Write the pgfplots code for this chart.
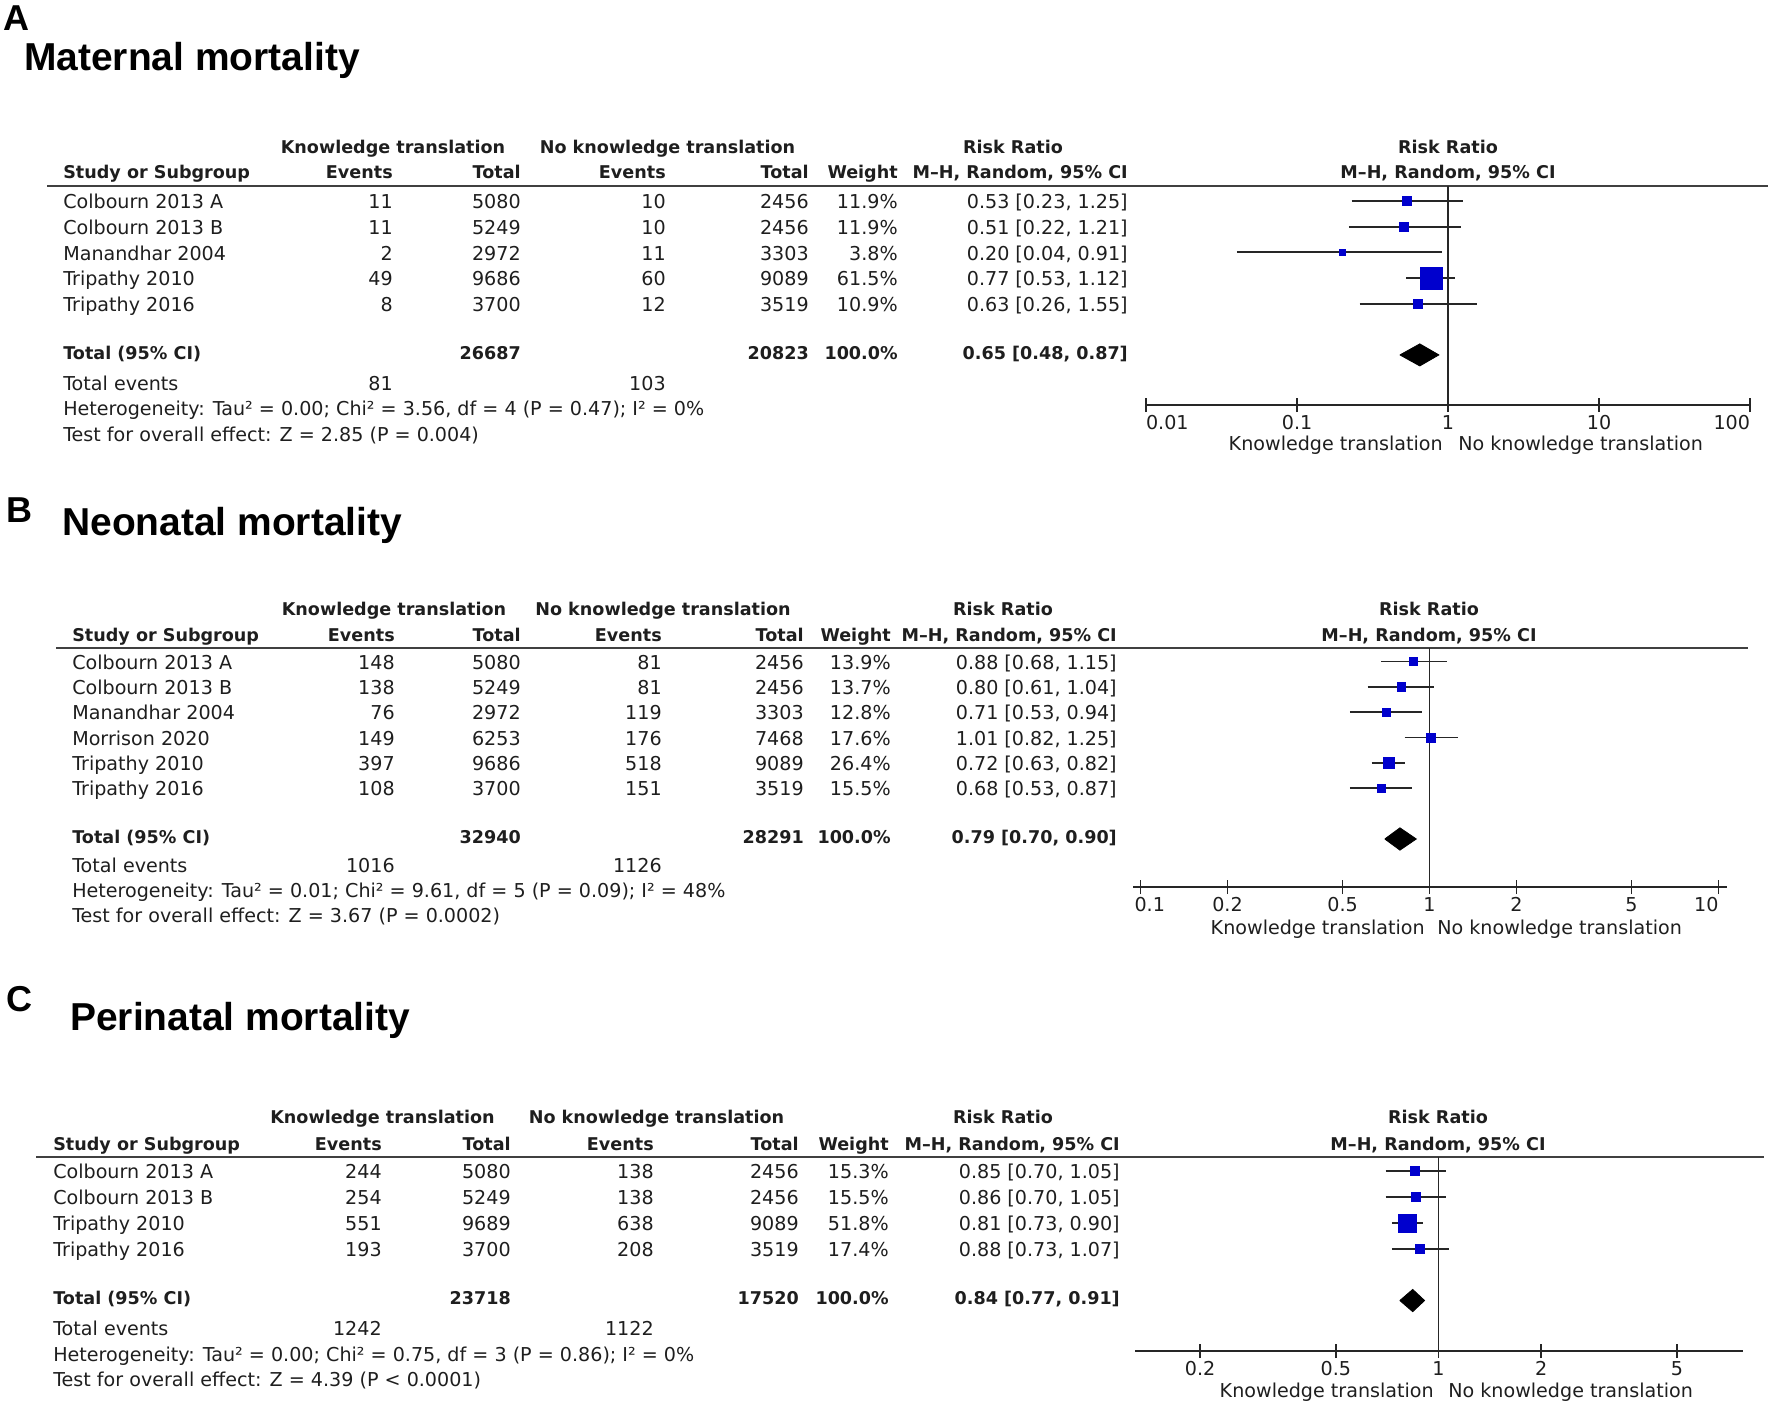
\documentclass[border=0pt]{standalone}
\usepackage{fontspec}
\usepackage{pgfplots}
\usepackage{pgfplotstable}
\pgfplotsset{compat=1.18}
\setmainfont{DejaVu Sans}
\newfontfamily\titlefont{Liberation Sans}
\newcommand\tf{\fontsize{13.6pt}{16pt}\selectfont}
\newcommand\tfb{\fontsize{12.5pt}{15pt}\selectfont\bfseries}
\newcommand\ttl{\fontsize{27.7pt}{32pt}\selectfont\titlefont\bfseries}
\newcommand\lbl{\fontsize{25.6pt}{30pt}\selectfont\titlefont\bfseries}
\definecolor{rmblue}{RGB}{0,0,205}
\definecolor{txt}{RGB}{30,30,30}

% forest data: row, ratio, lower, upper, square side (px)
\pgfplotstableread{
row rr lo hi sz
1 0.53 0.23 1.25 9
2 0.51 0.22 1.21 9
3 0.20 0.04 0.91 6
4 0.77 0.53 1.12 22
5 0.63 0.26 1.55 8.5
}\dataA
\pgfplotstableread{
row rr lo hi sz
1 0.88 0.68 1.15 8.5
2 0.80 0.61 1.04 8.3
3 0.71 0.53 0.94 8.2
4 1.01 0.82 1.25 8.6
5 0.72 0.63 0.82 11
6 0.68 0.53 0.87 8.7
}\dataB
\pgfplotstableread{
row rr lo hi sz
1 0.85 0.70 1.05 8.7
2 0.86 0.70 1.05 9
3 0.81 0.73 0.90 18
4 0.88 0.73 1.07 9.4
}\dataC

\pgfplotsset{
fstyle/.style={
  scale only axis, clip=false,
  axis y line=none, axis x line*=bottom,
  axis line style={line width=0.5mm, black!85},
  xtick align=center, major tick length=3.5mm, minor tick length=0pt,
  tick style={line width=0.4mm, black!85},
  xticklabel style={font=\tf, text=txt, inner sep=0pt, anchor=north, yshift=-0.75mm},
},
ci/.style={black!85, line width=0.45mm, forget plot},
sq/.style={only marks, mark=square*, scatter,
  scatter/use mapped color={draw=rmblue, fill=rmblue},
  visualization depends on={\thisrow{sz} \as \sz},
  scatter/@pre marker code/.append style={/tikz/mark size=\sz*0.125mm}},
dia/.style={fill=black, draw=black, line width=0.2mm, mark=none},
}

\newcommand\setcols[7]{\def\cN{#1}\def\cEa{#2}\def\cTa{#3}\def\cEb{#4}\def\cTb{#5}\def\cW{#6}\def\cCI{#7}}
\newcommand\Row[8]{%
  \node[lt] at (\cN,#1) {#2};
  \node[rt] at (\cEa,#1) {#3};
  \node[rt] at (\cTa,#1) {#4};
  \node[rt] at (\cEb,#1) {#5};
  \node[rt] at (\cTb,#1) {#6};
  \node[rt] at (\cW,#1) {#7};
  \node[rt] at (\cCI,#1) {#8};}
\newcommand\Head[3]{%
  \node[cb] at ({(\cEa+\cTa)/2-64},#1) {Knowledge translation};
  \node[cb] at ({(\cEb+\cTb)/2-70},#1) {No knowledge translation};
  \node[cb] at (#3,#1) {Risk Ratio};
  \node[lb] at (\cN,#2) {Study or Subgroup};
  \node[rb] at (\cEa,#2) {Events};
  \node[rb] at (\cTa,#2) {Total};
  \node[rb] at (\cEb,#2) {Events};
  \node[rb] at (\cTb,#2) {Total};
  \node[rb] at (\cW,#2) {Weight};
  \node[rb] at (\cCI,#2) {M–H, Random, 95\% CI};}
\newcommand\Tot[5]{%
  \node[lb] at (\cN,#1) {Total (95\% CI)};
  \node[rb] at (\cTa,#1) {#2};
  \node[rb] at (\cTb,#1) {#3};
  \node[rb] at (\cW,#1) {100.0\%};
  \node[rb] at (\cCI,#1) {#4 #5};}
\newcommand\Foot[7]{%
  \node[lt] at (\cN,#1) {Total events};
  \node[rt] at (\cEa,#1) {#2};
  \node[rt] at (\cEb,#1) {#3};
  \node[lt] at (\cN,#4) {#5};
  \node[lt] at (\cN,#6) {#7};}

\begin{document}
\begin{tikzpicture}
\begin{scope}[x=0.25mm, y=-0.25mm,
  lt/.style={anchor=mid west, inner sep=0pt, font=\tf, text=txt, yshift=-0.6mm},
  rt/.style={anchor=mid east, inner sep=0pt, font=\tf, text=txt, yshift=-0.6mm},
  ct/.style={anchor=mid, inner sep=0pt, font=\tf, text=txt, yshift=-0.6mm},
  lb/.style={anchor=mid west, inner sep=0pt, font=\tfb, text=txt, yshift=-0.4mm},
  rb/.style={anchor=mid east, inner sep=0pt, font=\tfb, text=txt, yshift=-0.4mm},
  cb/.style={anchor=mid, inner sep=0pt, font=\tfb, text=txt, yshift=-0.4mm}]
\path[use as bounding box] (0,0) rectangle (1772,1404);

% ================= Panel A =================
\node[anchor=base west, inner sep=0pt, font=\lbl] at (3,30) {A};
\node[anchor=base west, inner sep=0pt, font=\ttl] at (24,70) {Maternal mortality};
\setcols{63}{393}{521}{666}{809}{898}{1128}
\Head{148.5}{173.5}{1013}
\draw[line width=0.6mm, black!75] (47,186) -- (1768,186);
\Row{202.5}{Colbourn 2013 A}{11}{5080}{10}{2456}{11.9\%}{0.53 [0.23, 1.25]}
\Row{228.2}{Colbourn 2013 B}{11}{5249}{10}{2456}{11.9\%}{0.51 [0.22, 1.21]}
\Row{253.8}{Manandhar 2004}{2}{2972}{11}{3303}{3.8\%}{0.20 [0.04, 0.91]}
\Row{279.5}{Tripathy 2010}{49}{9686}{60}{9089}{61.5\%}{0.77 [0.53, 1.12]}
\Row{305.1}{Tripathy 2016}{8}{3700}{12}{3519}{10.9\%}{0.63 [0.26, 1.55]}
\Tot{354}{26687}{20823}{0.65}{[0.48, 0.87]}
\Foot{384}{81}{103}{409.5}{Heterogeneity: Tau² = 0.00; Chi² = 3.56, df = 4 (P = 0.47); I² = 0\%}{435.5}{Test for overall effect: Z = 2.85 (P = 0.004)}
\node[cb] at (1448,148.5) {Risk Ratio};
\node[cb] at (1448,173.5) {M–H, Random, 95\% CI};
\node[rt] at (1443,444.5) {Knowledge translation};
\node[lt] at (1458,444.5) {No knowledge translation};

% ================= Panel B =================
\node[anchor=base west, inner sep=0pt, font=\lbl] at (6,522) {B};
\node[anchor=base west, inner sep=0pt, font=\ttl] at (62,535) {Neonatal mortality};
\setcols{72}{395}{521}{662}{804}{891}{1117}
\Head{610.5}{636.5}{1003}
\draw[line width=0.6mm, black!75] (56,648) -- (1748,648);
\Row{663}{Colbourn 2013 A}{148}{5080}{81}{2456}{13.9\%}{0.88 [0.68, 1.15]}
\Row{688.3}{Colbourn 2013 B}{138}{5249}{81}{2456}{13.7\%}{0.80 [0.61, 1.04]}
\Row{713.7}{Manandhar 2004}{76}{2972}{119}{3303}{12.8\%}{0.71 [0.53, 0.94]}
\Row{739}{Morrison 2020}{149}{6253}{176}{7468}{17.6\%}{1.01 [0.82, 1.25]}
\Row{764.4}{Tripathy 2010}{397}{9686}{518}{9089}{26.4\%}{0.72 [0.63, 0.82]}
\Row{789.7}{Tripathy 2016}{108}{3700}{151}{3519}{15.5\%}{0.68 [0.53, 0.87]}
\Tot{838}{32940}{28291}{0.79}{[0.70, 0.90]}
\Foot{866}{1016}{1126}{891}{Heterogeneity: Tau² = 0.01; Chi² = 9.61, df = 5 (P = 0.09); I² = 48\%}{916}{Test for overall effect: Z = 3.67 (P = 0.0002)}
\node[cb] at (1429,610.5) {Risk Ratio};
\node[cb] at (1429,636.5) {M–H, Random, 95\% CI};
\node[rt] at (1425,928.5) {Knowledge translation};
\node[lt] at (1437,928.5) {No knowledge translation};

% ================= Panel C =================
\node[anchor=base west, inner sep=0pt, font=\lbl] at (6,1011) {C};
\node[anchor=base west, inner sep=0pt, font=\ttl] at (70,1030) {Perinatal mortality};
\setcols{53}{382}{511}{654}{799}{889}{1120}
\Head{1118.5}{1145.5}{1003}
\draw[line width=0.6mm, black!75] (36,1157) -- (1764,1157);
\Row{1172.5}{Colbourn 2013 A}{244}{5080}{138}{2456}{15.3\%}{0.85 [0.70, 1.05]}
\Row{1198.4}{Colbourn 2013 B}{254}{5249}{138}{2456}{15.5\%}{0.86 [0.70, 1.05]}
\Row{1224.3}{Tripathy 2010}{551}{9689}{638}{9089}{51.8\%}{0.81 [0.73, 0.90]}
\Row{1250.2}{Tripathy 2016}{193}{3700}{208}{3519}{17.4\%}{0.88 [0.73, 1.07]}
\Tot{1299}{23718}{17520}{0.84}{[0.77, 0.91]}
\Foot{1329}{1242}{1122}{1355}{Heterogeneity: Tau² = 0.00; Chi² = 0.75, df = 3 (P = 0.86); I² = 0\%}{1380}{Test for overall effect: Z = 4.39 (P < 0.0001)}
\node[cb] at (1438,1118.5) {Risk Ratio};
\node[cb] at (1438,1145.5) {M–H, Random, 95\% CI};
\node[rt] at (1434,1391.5) {Knowledge translation};
\node[lt] at (1448,1391.5) {No knowledge translation};
\end{scope}

\begin{axis}[fstyle, xmode=log, at={(286.5mm,-101.25mm)}, anchor=south west,
  width=151mm, height=54.75mm,
  xmin=0.01, xmax=100, ymin=-8.953, ymax=-0.415,
  xtick={0.01,0.1,1,10,100}, xticklabels={\rlap{0.01},0.1,1,10,\llap{100}}]
\addplot[ci] coordinates {(1,-8.953) (1,-0.415)};
\addplot[ci] coordinates {(0.23,-1) (1.25,-1)};
\addplot[ci] coordinates {(0.22,-2) (1.21,-2)};
\addplot[ci] coordinates {(0.04,-3) (0.91,-3)};
\addplot[ci] coordinates {(0.53,-4) (1.12,-4)};
\addplot[ci] coordinates {(0.26,-5) (1.55,-5)};
\addplot[sq] table[x=rr, y expr=-\thisrow{row}] {\dataA};
\addplot[dia] coordinates {(0.48,-7) (0.65,-6.57) (0.87,-7) (0.65,-7.43) (0.48,-7)};
\end{axis}

\begin{axis}[fstyle, xmode=log, at={(283.25mm,-221.75mm)}, anchor=south west,
  width=148.5mm, height=59.75mm,
  xmin=0.0942, xmax=10.7, ymin=-9.895, ymax=-0.4675,
  xtick={0.1,0.2,0.5,1,2,5,10}, xticklabels={\rlap{\hspace{-1.5mm}0.1},0.2,0.5,1,2,5,\llap{10}}]
\addplot[ci] coordinates {(1,-9.895) (1,-0.4675)};
\addplot[ci] coordinates {(0.68,-1) (1.15,-1)};
\addplot[ci] coordinates {(0.61,-2) (1.04,-2)};
\addplot[ci] coordinates {(0.53,-3) (0.94,-3)};
\addplot[ci] coordinates {(0.82,-4) (1.25,-4)};
\addplot[ci] coordinates {(0.63,-5) (0.82,-5)};
\addplot[ci] coordinates {(0.53,-6) (0.87,-6)};
\addplot[sq] table[x=rr, y expr=-\thisrow{row}] {\dataB};
\addplot[dia] coordinates {(0.70,-8) (0.79,-7.56) (0.90,-8) (0.79,-8.44) (0.70,-8)};
\end{axis}

\begin{axis}[fstyle, xmode=log, at={(283.75mm,-337.75mm)}, anchor=south west,
  width=152mm, height=48.5mm,
  xmin=0.1288, xmax=7.816, ymin=-7.95, ymax=-0.4595,
  xtick={0.2,0.5,1,2,5}, xticklabels={0.2,0.5,1,2,5}]
\addplot[ci] coordinates {(1,-7.95) (1,-0.4595)};
\addplot[ci] coordinates {(0.70,-1) (1.05,-1)};
\addplot[ci] coordinates {(0.70,-2) (1.05,-2)};
\addplot[ci] coordinates {(0.73,-3) (0.90,-3)};
\addplot[ci] coordinates {(0.73,-4) (1.07,-4)};
\addplot[sq] table[x=rr, y expr=-\thisrow{row}] {\dataC};
\addplot[dia] coordinates {(0.77,-6) (0.84,-5.57) (0.91,-6) (0.84,-6.43) (0.77,-6)};
\end{axis}
\end{tikzpicture}
\end{document}
